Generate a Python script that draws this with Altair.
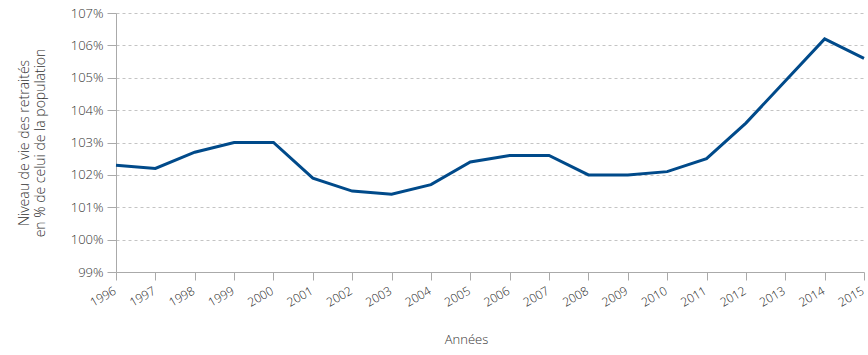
import altair as alt
import pandas as pd

years = list(range(1996, 2016))
values = [102.3, 102.2, 102.7, 103.0, 103.0, 101.9, 101.5, 101.4, 101.7, 102.4,
          102.6, 102.6, 102.0, 102.0, 102.1, 102.5, 103.6, 104.9, 106.2, 105.6]
y_ticks = [99, 100, 101, 102, 103, 104, 105, 106, 107]

df = pd.DataFrame({"annee": years, "niveau": values})

FONT = "Open Sans"

chart = alt.Chart(df).mark_line(color="#004a8a", strokeWidth=3).encode(
    x=alt.X("annee:Q",
            scale=alt.Scale(domain=[1996, 2015], nice=False, zero=False),
            axis=alt.Axis(values=years, format="d", title="Années",
                          labelAngle=330, labelAlign="right", labelBaseline="top",
                          labelFontSize=12, labelColor="#222", labelFont=FONT,
                          labelFontWeight=300, labelOffset=-4,
                          labelPadding=5, tickSize=8, tickColor="#aaa",
                          domainColor="#aaa", grid=False,
                          titleFont=FONT, titleFontSize=13, titleFontWeight=300,
                          titleColor="#333", titlePadding=25, titleX=350)),
    y=alt.Y("niveau:Q",
            scale=alt.Scale(domain=[99, 107], nice=False, zero=False),
            axis=alt.Axis(values=y_ticks, labelExpr="datum.value + '%'",
                          title=["Niveau de vie des retraités", "en % de celui de la population"],
                          labelFontSize=13, labelColor="#333", labelFont=FONT,
                          labelFontWeight=300, labelPadding=4,
                          tickSize=9, tickColor="#aaa", domainColor="#aaa",
                          grid=True, gridColor="#c4c4c4", gridDash=[3, 3],
                          titleFont=FONT, titleFontSize=14, titleFontWeight=300,
                          titleColor="#333", titlePadding=23)),
).properties(
    width=748, height=259,
    autosize=alt.AutoSizeParams(type="none"),
    padding={"left": 116, "top": 13, "right": 4, "bottom": 83},
).configure_view(stroke=None)

chart.save("out.html", embed_options={"renderer": "svg", "actions": False})
